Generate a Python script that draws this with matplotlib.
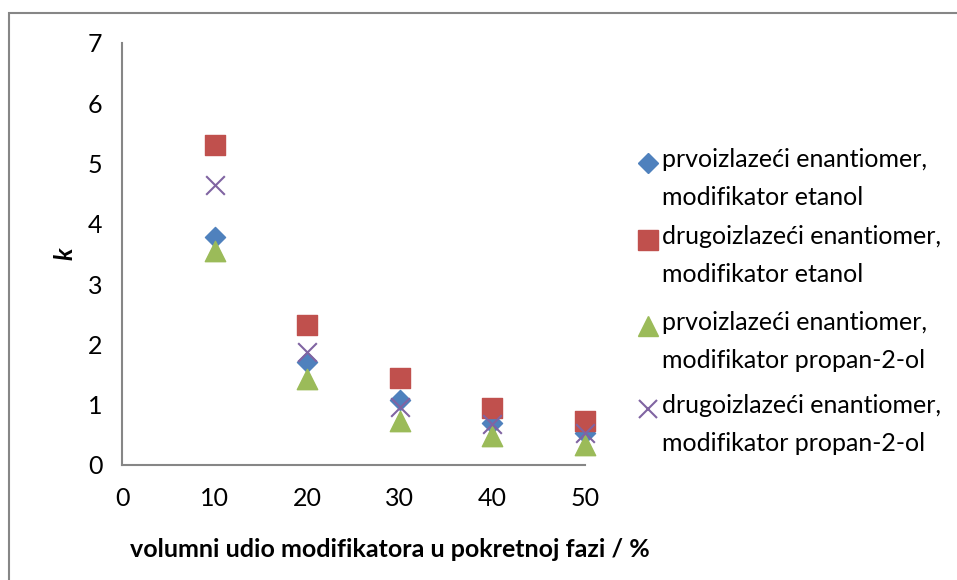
import matplotlib
matplotlib.use("Agg")
import matplotlib.pyplot as plt
from matplotlib.patches import Rectangle
from matplotlib.lines import Line2D

plt.rcParams['font.family'] = ['Lato', 'DejaVu Sans']

# volume fraction of modifier in mobile phase (%)
udio = [10, 20, 30, 40, 50]

# retention factors k
k_prvi_etanol = [3.79, 1.71, 1.08, 0.70, 0.53]
k_drugi_etanol = [5.31, 2.32, 1.45, 0.94, 0.73]
k_prvi_propanol = [3.55, 1.43, 0.73, 0.48, 0.33]
k_drugi_propanol = [4.64, 1.88, 0.97, 0.68, 0.53]

labels = ["prvoizlazeći enantiomer,\nmodifikator etanol",
          "drugoizlazeći enantiomer,\nmodifikator etanol",
          "prvoizlazeći enantiomer,\nmodifikator propan-2-ol",
          "drugoizlazeći enantiomer,\nmodifikator propan-2-ol"]

W, H = 957, 580
fig = plt.figure(figsize=(W / 100, H / 100), dpi=100)
ax = fig.add_axes([122 / W, 1 - 465 / H, 463 / W, 422 / H])

# outer chart frame
fig.patches.append(Rectangle((9 / W, -0.1), 1.1, 1 - 13 / H + 0.1,
                             transform=fig.transFigure, fill=False,
                             edgecolor='#868686', linewidth=1.5))

series = [
    (k_prvi_etanol, dict(marker='D', s=105, color='#4F81BD', zorder=3)),
    (k_drugi_etanol, dict(marker='s', s=205, color='#C0504D', zorder=3)),
    (k_prvi_propanol, dict(marker='^', s=215, color='#9BBB59', zorder=3)),
    (k_drugi_propanol, dict(marker='x', s=180, color='#8064A2', linewidths=1.5, zorder=4)),
]
for vals, style in series:
    ax.scatter(udio, vals, clip_on=False, **style)

ax.set_xlim(0, 50)
ax.set_ylim(0, 7)
ax.set_xticks(range(0, 60, 10))
ax.set_yticks(range(0, 8))
ax.tick_params(length=0, labelsize=18)
ax.tick_params(axis='y', pad=14)
ax.tick_params(axis='x', pad=16)

for side in ['top', 'right']:
    ax.spines[side].set_visible(False)
for side in ['left', 'bottom']:
    ax.spines[side].set_color('#868686')
    ax.spines[side].set_linewidth(1.5)

ax.set_xlabel("volumni udio modifikatora u pokretnoj fazi / %", fontsize=18,
              fontweight='bold')
ax.xaxis.set_label_coords(0.579, -0.174)
ax.set_ylabel("k", fontsize=18, fontweight='bold', fontstyle='italic', labelpad=8)

# legend: marker beside the first line of each two-line label
leg_tops = [163, 240, 326, 409]
leg_handles = [
    dict(marker='D', markersize=10, color='#4F81BD'),
    dict(marker='s', markersize=14, color='#C0504D'),
    dict(marker='^', markersize=14, color='#9BBB59'),
    dict(marker='x', markersize=13, color='#8064A2', markeredgewidth=1.5),
]
for top, label, hstyle in zip(leg_tops, labels, leg_handles):
    y = 1 - top / H
    fig.add_artist(Line2D([648 / W], [y], linestyle='none', transform=fig.transFigure, **hstyle))
    fig.text(662 / W, y + 15 / H, label, fontsize=18, va='top', ha='left', linespacing=1.8)

fig.savefig("out.png", dpi=100)
